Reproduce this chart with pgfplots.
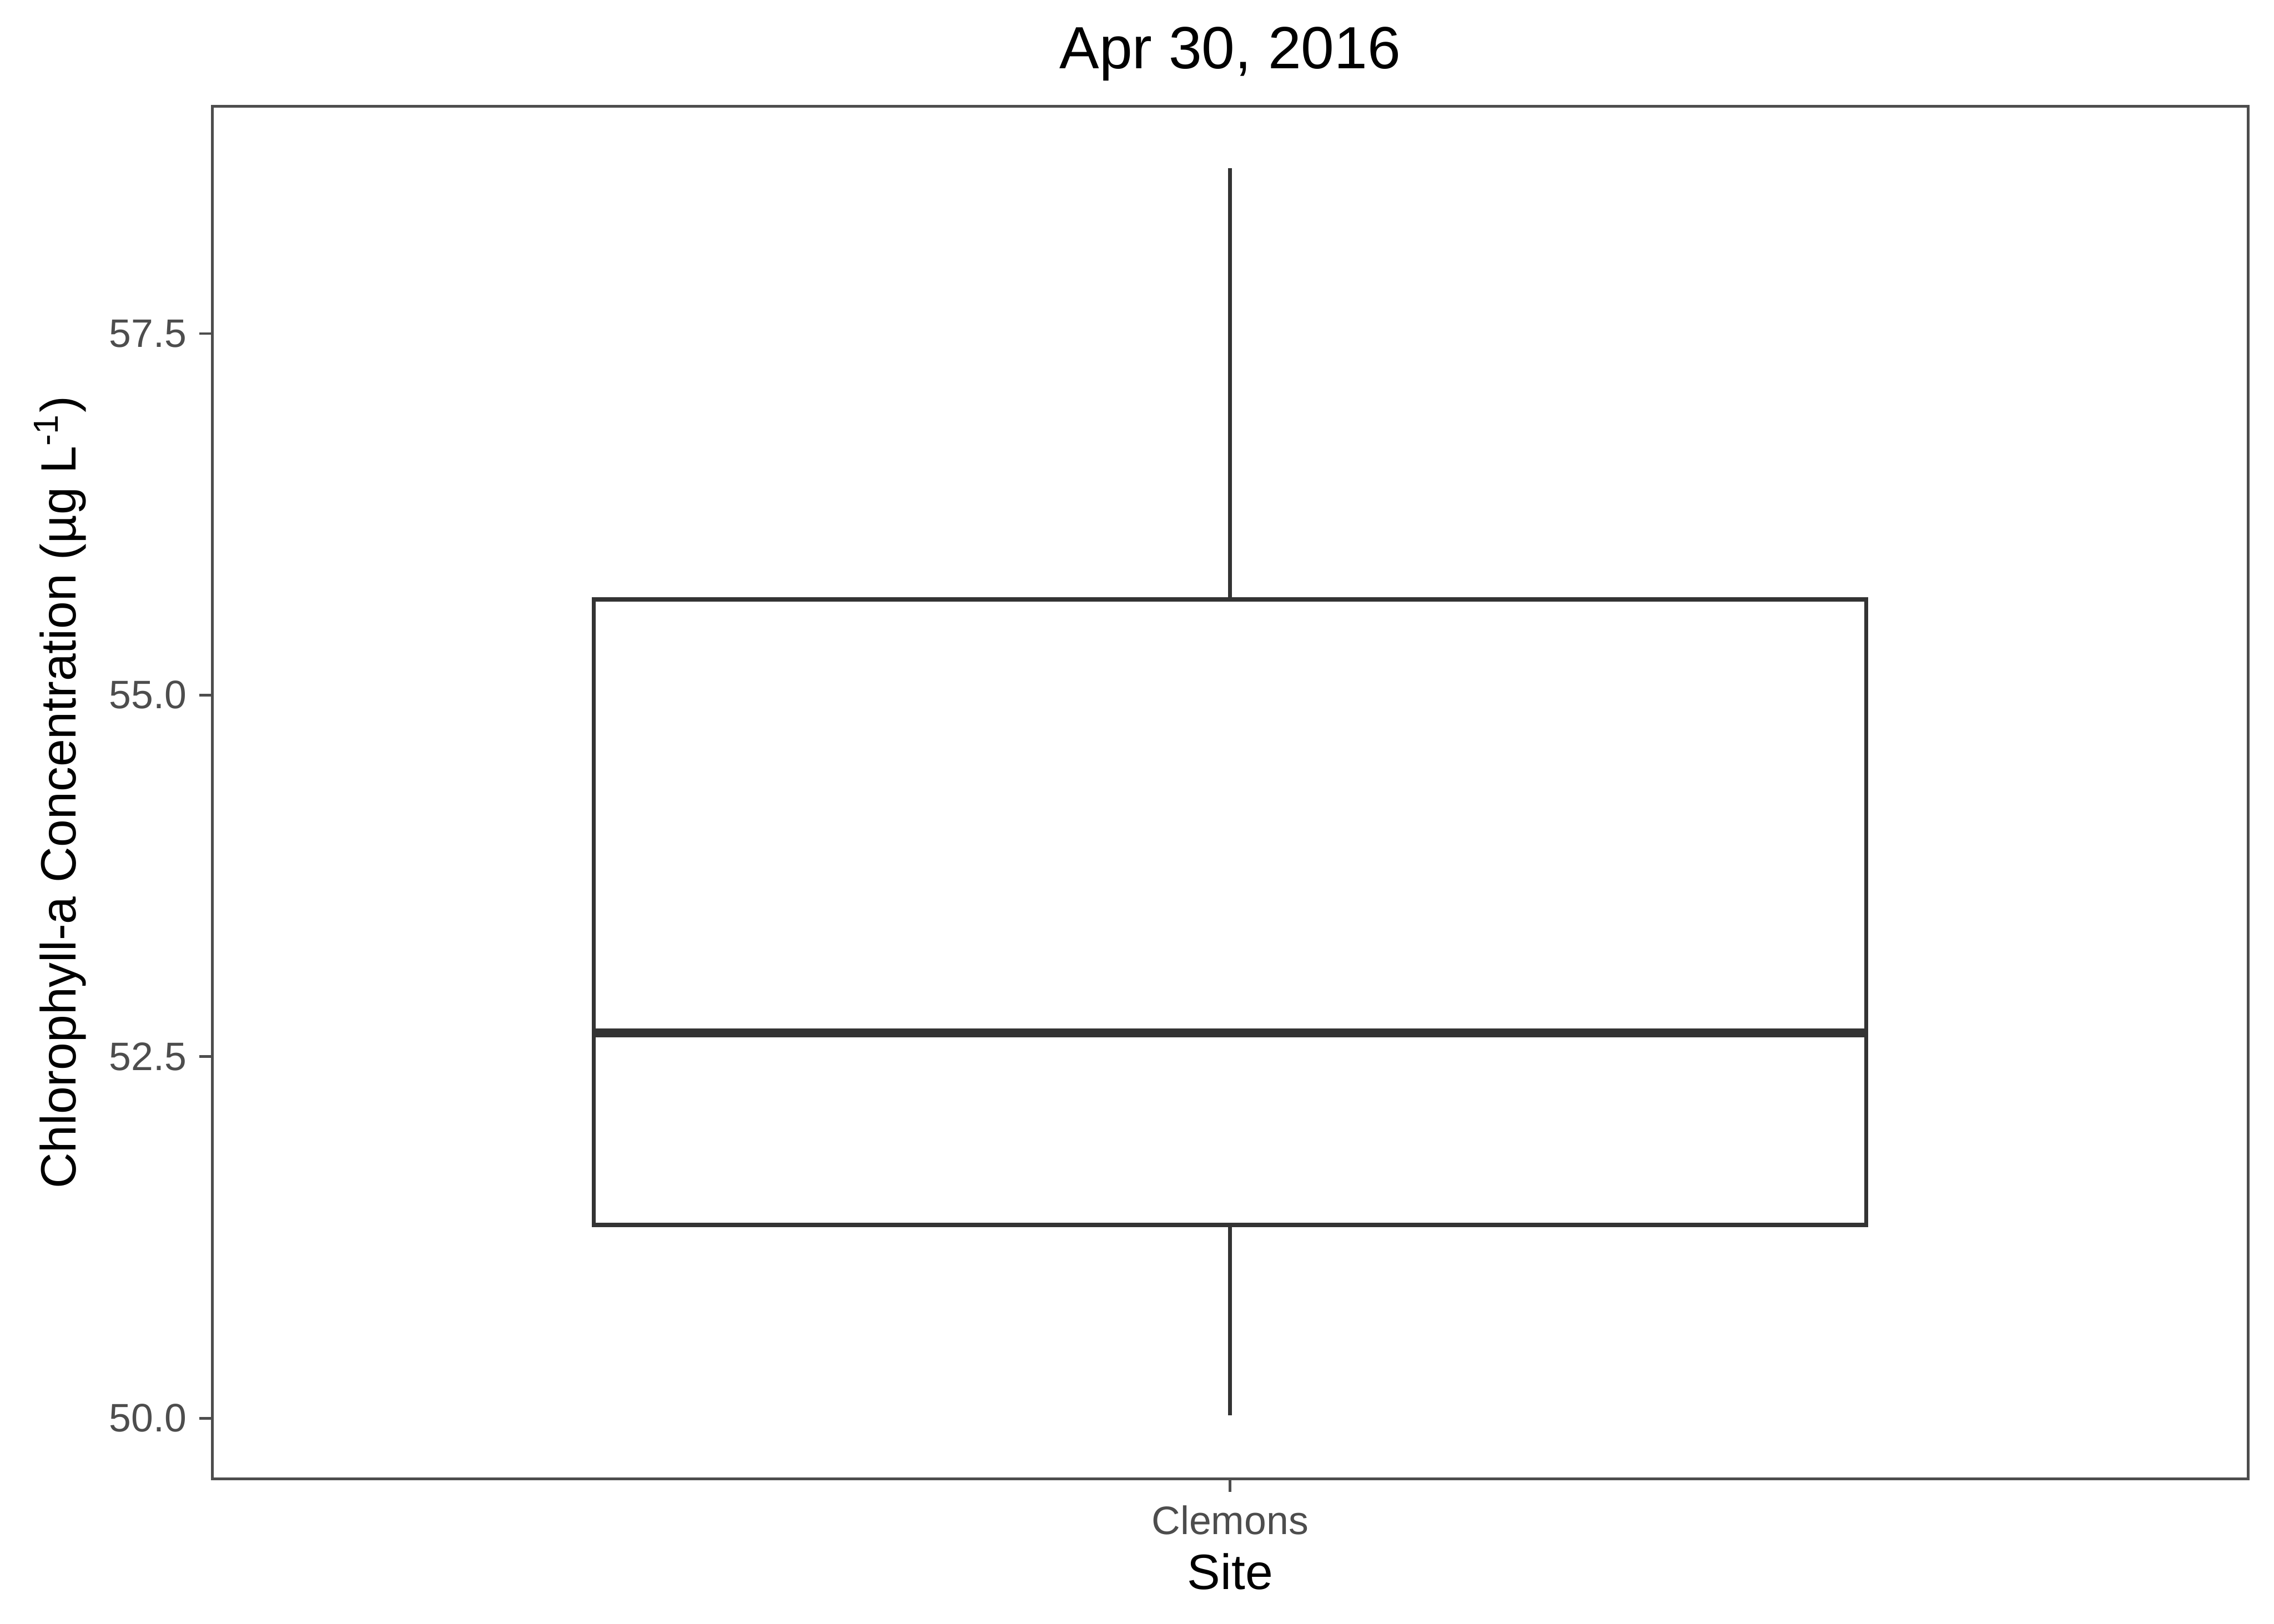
\documentclass[border=0pt]{standalone}
\usepackage{fontspec}
\setmainfont{Liberation Sans}
\usepackage{pgfplots}
\pgfplotsset{compat=1.18}
\definecolor{boxc}{HTML}{333333}
\definecolor{tickc}{HTML}{4D4D4D}
\begin{document}
\begin{tikzpicture}
\useasboundingbox[fill=white] (-47.04pt,-32.16pt) rectangle (456.96pt,327.84pt);
\begin{axis}[
  at={(0,0)}, anchor=south west,
  scale only axis,
  width=451.2pt, height=304.3pt,
  xmin=0.4, xmax=1.6,
  ymin=49.581, ymax=59.072,
  xtick={1}, xticklabels={Clemons},
  ytick={50,52.5,55,57.5},
  yticklabel style={/pgf/number format/fixed, /pgf/number format/precision=1, /pgf/number format/fixed zerofill},
  /pgf/number format/assume math mode=true,
  tick align=outside,
  xtick pos=bottom, ytick pos=left,
  major tick length=2.9pt,
  tick style={draw=tickc, line width=0.6pt},
  axis line style={draw=tickc, line width=0.6pt},
  ticklabel style={font=\fontsize{8.8}{10}\selectfont, text=tickc, inner sep=0pt},
  yticklabel style={xshift=-2.6pt},
  xticklabel style={yshift=-2.8pt},
  title={Apr 30, 2016},
  title style={at={(axis description cs:0.5,1.0276)}, anchor=base, yshift=-6pt, font=\fontsize{13.2}{15}\selectfont, inner sep=0pt},
  xlabel={Site},
  xlabel style={at={(axis description cs:0.5,-0.0804)}, anchor=base, font=\fontsize{11}{13}\selectfont, inner sep=0pt},
  ylabel={Chlorophyll-a Concentration (µg L\textsuperscript{-1})},
  ylabel style={at={(axis description cs:-0.067,0.5)}, anchor=base, font=\fontsize{11}{13}\selectfont, inner sep=0pt},
]
% upper whisker
\addplot[draw=boxc, line width=0.9pt] coordinates {(1,55.662) (1,58.643)};
% lower whisker
\addplot[draw=boxc, line width=0.9pt] coordinates {(1,51.336) (1,50.02)};
% box (Q1 to Q3)
\addplot[draw=boxc, line width=0.9pt, fill=white] coordinates {(0.625,51.336) (1.375,51.336) (1.375,55.662) (0.625,55.662)} -- cycle;
% median
\addplot[draw=boxc, line width=2pt] coordinates {(0.625,52.665) (1.375,52.665)};
\end{axis}
\end{tikzpicture}
\end{document}
